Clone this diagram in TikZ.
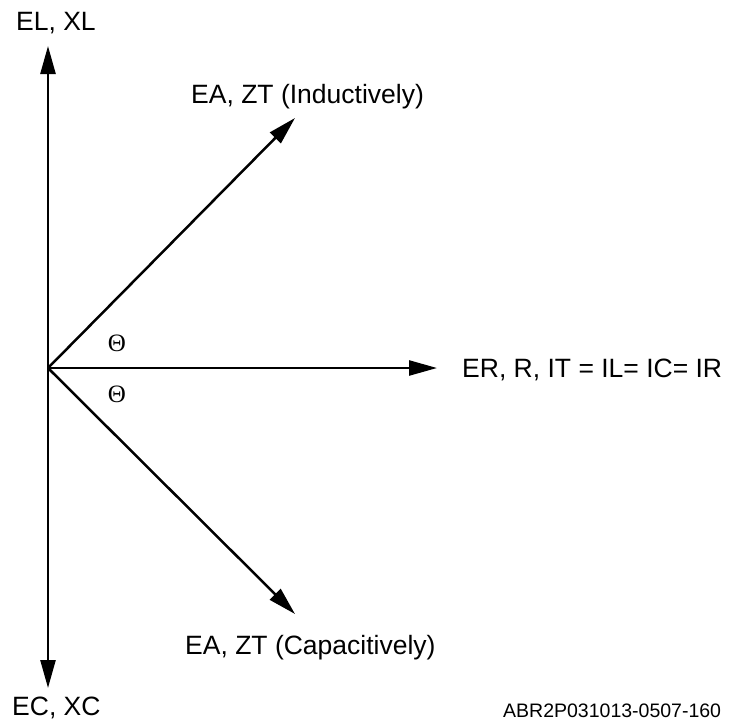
\documentclass[tikz,border=0pt]{standalone}
\usepackage{fontspec}
\setmainfont{Liberation Sans}
\newfontfamily\thetafont{Liberation Serif}
\usetikzlibrary{arrows.meta}
\begin{document}
\begin{tikzpicture}[x=1pt,y=-1pt,
  vec/.style={line width=2.5pt,-{Triangle[length=28pt,width=15pt]}},
  lbl/.style={inner sep=0pt,font=\fontsize{26.5}{30}\selectfont},
  ang/.style={inner sep=0pt,font=\thetafont\fontsize{25}{28}\selectfont},
  codelbl/.style={inner sep=0pt,font=\fontsize{19.5}{22}\selectfont}]
\useasboundingbox (0,0) rectangle (736,723);
\coordinate (O) at (48,368);
\coordinate (up) at (48,46);
\coordinate (down) at (48,688);
\coordinate (right) at (437,368);
\coordinate (ind) at (295,118);
\coordinate (capa) at (295,614);
\draw[vec] (O) -- (up);
\draw[vec] (O) -- (down);
\draw[vec] (O) -- (right);
\draw[vec] (O) -- (ind);
\draw[vec] (O) -- (capa);
\node[lbl,anchor=base west] (elxl) at (16,30) {EL, XL};
\node[lbl,anchor=base west] (ind lbl) at (191,103) {EA, ZT (Inductively)};
\node[lbl,anchor=base west] (er lbl) at (462,377) {ER, R, IT = IL= IC= IR};
\node[lbl,anchor=base west] (cap lbl) at (185,654) {EA, ZT (Capacitively)};
\node[lbl,anchor=base west] (ecxc) at (12,715) {EC, XC};
\node[ang] (th1) at (117,343) {Θ};
\node[ang] (th2) at (117,394) {Θ};
\node[codelbl,anchor=base west] (code) at (503,717) {ABR2P031013-0507-160};
\end{tikzpicture}
\end{document}
